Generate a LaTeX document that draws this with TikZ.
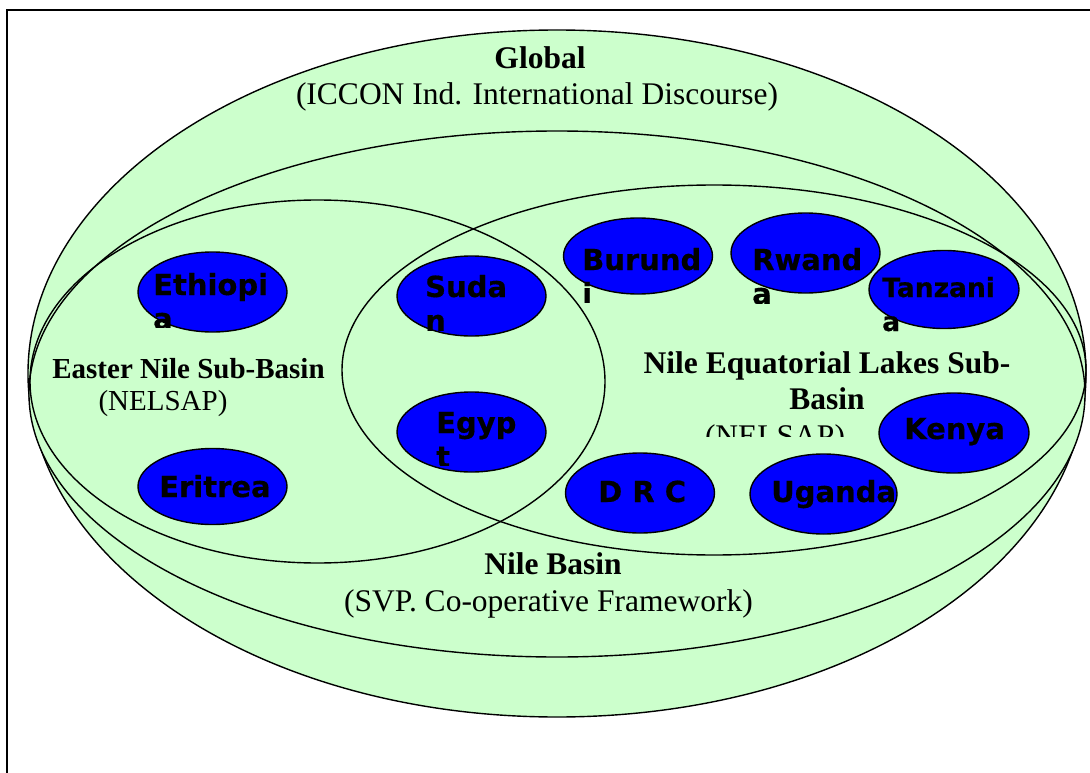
\documentclass[tikz,border=0pt]{standalone}
\usepackage{fontspec}
\setmainfont{Liberation Serif}
\newfontfamily\ctyfont{DejaVu Sans}[BoldFeatures={FakeBold=0.5}]
\usetikzlibrary{shapes.geometric}
\definecolor{basin}{HTML}{CCFFCC}
\definecolor{ctyblue}{HTML}{0000FF}
\begin{document}
\begin{tikzpicture}[x=1pt,y=-1pt,
  region/.style={draw=black, line width=1.4pt},
  country/.style={ellipse, draw=black, line width=1.4pt, fill=ctyblue, inner sep=0pt,
    minimum width=149pt, minimum height=80pt},
  ctext/.style={inner sep=0pt, anchor=base west, text=black,
    font=\ctyfont\bfseries\fontsize{29}{34}\selectfont},
  ttl/.style={inner sep=0pt, anchor=base, font=\fontsize{31.5}{38}\selectfont\bfseries},
  sbt/.style={inner sep=0pt, anchor=base, font=\fontsize{31.5}{38}\selectfont},
  ttlsm/.style={inner sep=0pt, anchor=base, font=\fontsize{29}{35}\selectfont\bfseries},
  sbtsm/.style={inner sep=0pt, anchor=base, font=\fontsize{29}{35}\selectfont}]
\useasboundingbox (0,0) rectangle (1090,773);
\clip (0,0) rectangle (1090,773);
\fill[white] (0,0) rectangle (1090,773);
% frame
\draw[line width=2pt] (7,10) rectangle (1110,800);
% regions
\fill[basin] (557,373.5) ellipse [x radius=529pt, y radius=343.5pt];
\draw[region] (557,373.5) ellipse [x radius=529pt, y radius=343.5pt];
\fill[basin] (557,394) ellipse [x radius=528pt, y radius=263pt];
\draw[region] (557,394) ellipse [x radius=528pt, y radius=263pt];
\draw[region] (317.5,381.5) ellipse [x radius=287.5pt, y radius=181.5pt];
\draw[region] (714,370) ellipse [x radius=372pt, y radius=185pt];
% region labels
\node[ttl] (glob) at (540,69) {Global};
\node[sbt] (globs) at (537,105) {(ICCON Ind. International Discourse)};
\node[ttl] (nb) at (553,574) {Nile Basin};
\node[sbt] (nbs) at (548.5,611) {(SVP. Co-operative Framework)};
\node[ttlsm] (en) at (188.5,378) {Easter Nile Sub-Basin};
\node[sbtsm] (ens) at (163,410) {(NELSAP)};
\node[ttl] (eq1) at (827,373) {Nile Equatorial Lakes Sub-};
\node[ttl] (eq2) at (827,409) {Basin};
\begin{scope}
\clip (600,380) rectangle (900,436);
\node[sbt] (eqs) at (775,446) {(NELSAP)};
\end{scope}
% countries
\node[country] (eth) at (212.5,292) {};
\node[country, minimum height=76pt] (eri) at (212.5,486.5) {};
\node[country] (sud) at (471.5,296) {};
\node[country] (egy) at (471.5,432) {};
\node[country, minimum height=76pt] (bur) at (638,256) {};
\node[country] (rwa) at (805.5,253) {};
\node[country, minimum width=150pt, minimum height=78pt] (tan) at (944,289.5) {};
\node[country, minimum width=150pt] (ken) at (954,433) {};
\node[country] (drc) at (640,493) {};
\node[country, minimum width=147pt] (uga) at (823.5,494) {};
% country labels
\begin{scope}\clip (100,200) rectangle (300,327);
\node[ctext] (ethT) at (153,295) {\rlap{\raisebox{-34pt}{a}}Ethiopi};
\end{scope}
\node[ctext] (eriT) at (159,497) {Eritrea};
\begin{scope}\clip (380,200) rectangle (560,330);
\node[ctext] (sudT) at (425,297) {\rlap{\raisebox{-34pt}{n}}Suda};
\end{scope}
\begin{scope}\clip (380,380) rectangle (560,465);
\node[ctext] (egyT) at (436,433) {\rlap{\raisebox{-34pt}{t}}Egyp};
\end{scope}
\begin{scope}\clip (550,200) rectangle (730,302);
\node[ctext] (burT) at (582,270) {\rlap{\raisebox{-34pt}{i}}Burund};
\end{scope}
\begin{scope}\clip (720,200) rectangle (900,303);
\node[ctext] (rwaT) at (752,270) {\rlap{\raisebox{-34pt}{a}}Rwand};
\end{scope}
\begin{scope}\clip (860,200) rectangle (1040,332);
\node[ctext, font=\ctyfont\bfseries\fontsize{26.5}{32}\selectfont] (tanT) at (882,297) {\rlap{\raisebox{-34pt}{a}}Tanzani};
\end{scope}
\node[ctext] (kenT) at (904,439) {Kenya};
\node[ctext] (drcT) at (598,502) {D R C};
\node[ctext] (ugaT) at (771,502) {Uganda};
\end{tikzpicture}
\end{document}
